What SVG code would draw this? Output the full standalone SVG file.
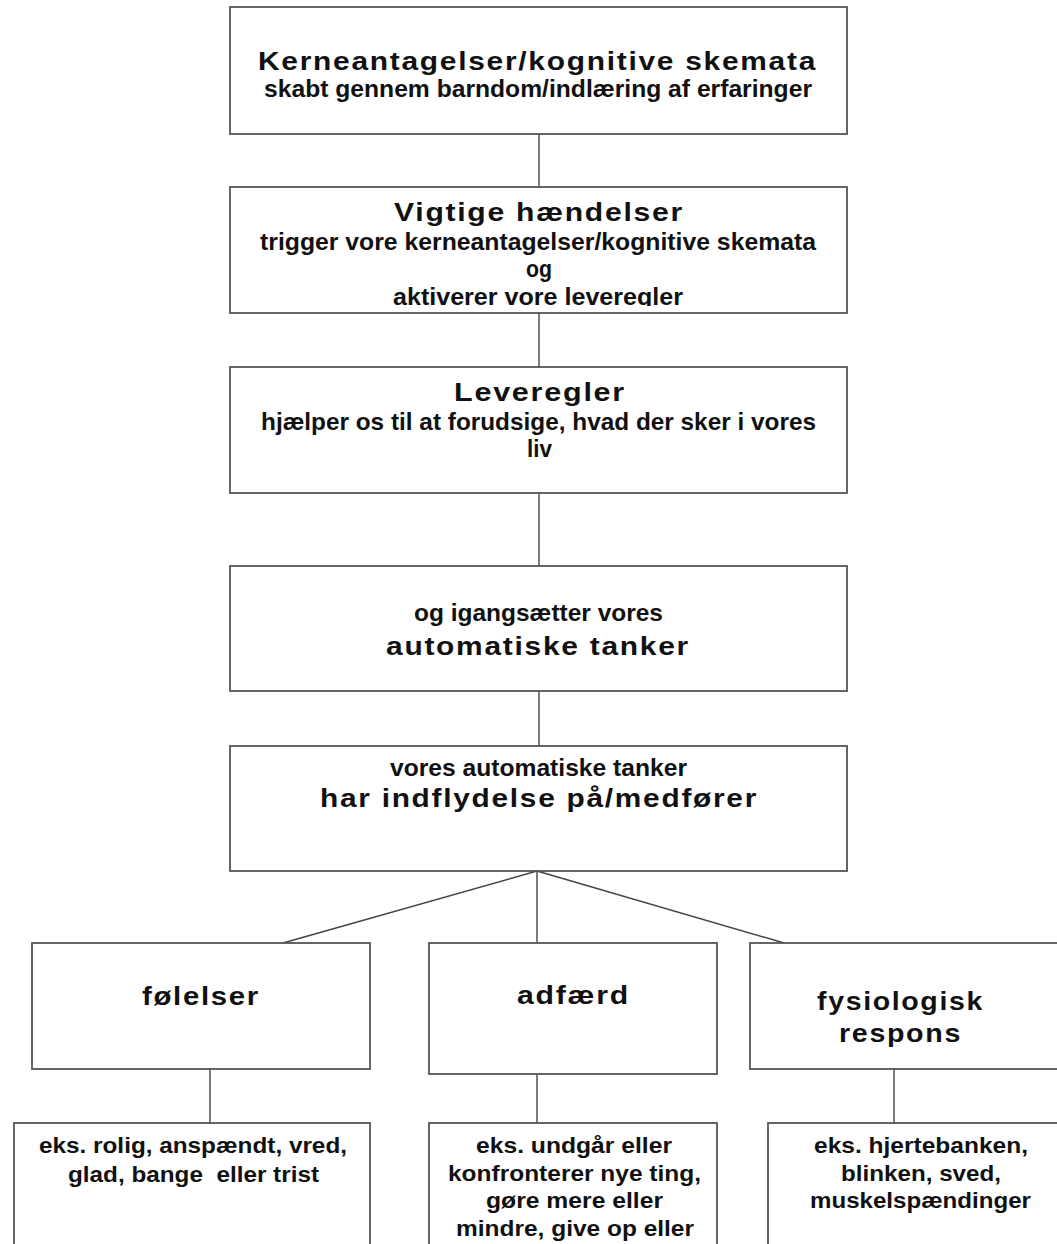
<svg xmlns="http://www.w3.org/2000/svg" width="1057" height="1244" viewBox="0 0 1057 1244">
<style>
.box{fill:#fff;stroke:#555;stroke-width:1.8}
.con{stroke:#444;stroke-width:1.4;fill:none}
text{font-family:"Liberation Sans",Arial,sans-serif;font-weight:bold;fill:#111}
.t{font-size:26px;letter-spacing:1.5px}
.s{font-size:24px}
.b{font-size:22px}
</style>
<defs>
<clipPath id="clip2"><rect x="230" y="187" width="617" height="119"/></clipPath>
</defs>
<rect width="1057" height="1244" fill="#fff"/>
<g id="connectors">
<line class="con" x1="539" y1="134" x2="539" y2="187"/>
<line class="con" x1="539" y1="313" x2="539" y2="367"/>
<line class="con" x1="539" y1="493" x2="539" y2="566"/>
<line class="con" x1="539" y1="691" x2="539" y2="746"/>
<line class="con" x1="537" y1="871" x2="283" y2="943"/>
<line class="con" x1="537" y1="871" x2="537" y2="943"/>
<line class="con" x1="537" y1="871" x2="784" y2="943"/>
<line class="con" x1="210" y1="1069" x2="210" y2="1123"/>
<line class="con" x1="537" y1="1070" x2="537" y2="1123"/>
<line class="con" x1="894" y1="1069" x2="894" y2="1123"/>
</g>
<g id="n1">
<rect class="box" x="230" y="7" width="617" height="127"/>
<text class="t" x="258" y="70" textLength="559" lengthAdjust="spacingAndGlyphs">Kerneantagelser/kognitive skemata</text>
<text class="s" x="264" y="97" textLength="548" lengthAdjust="spacingAndGlyphs">skabt gennem barndom/indlæring af erfaringer</text>
</g>
<g id="n2">
<rect class="box" x="230" y="187" width="617" height="126"/>
<text class="t" x="394" y="221" textLength="290" lengthAdjust="spacingAndGlyphs">Vigtige hændelser</text>
<text class="s" x="260" y="250" textLength="556" lengthAdjust="spacingAndGlyphs">trigger vore kerneantagelser/kognitive skemata</text>
<text class="s" x="526" y="277" textLength="26" lengthAdjust="spacingAndGlyphs">og</text>
<g clip-path="url(#clip2)">
<text class="s" x="393" y="305" textLength="290" lengthAdjust="spacingAndGlyphs">aktiverer vore leveregler</text>
</g>
</g>
<g id="n3">
<rect class="box" x="230" y="367" width="617" height="126"/>
<text class="t" x="454" y="401" textLength="172" lengthAdjust="spacingAndGlyphs">Leveregler</text>
<text class="s" x="261" y="430" textLength="555" lengthAdjust="spacingAndGlyphs">hjælper os til at forudsige, hvad der sker i vores</text>
<text class="s" x="527" y="457" textLength="25" lengthAdjust="spacingAndGlyphs">liv</text>
</g>
<g id="n4">
<rect class="box" x="230" y="566" width="617" height="125"/>
<text class="s" x="414" y="621" textLength="249" lengthAdjust="spacingAndGlyphs">og igangsætter vores</text>
<text class="t" x="386" y="655" textLength="304" lengthAdjust="spacingAndGlyphs">automatiske tanker</text>
</g>
<g id="n5">
<rect class="box" x="230" y="746" width="617" height="125"/>
<text class="s" x="390" y="776" textLength="297" lengthAdjust="spacingAndGlyphs">vores automatiske tanker</text>
<text class="t" x="320" y="807" textLength="438" lengthAdjust="spacingAndGlyphs">har indflydelse på/medfører</text>
</g>
<g id="n6">
<rect class="box" x="32" y="943" width="338" height="126"/>
<text class="t" x="142" y="1005" textLength="118" lengthAdjust="spacingAndGlyphs">følelser</text>
</g>
<g id="n7">
<rect class="box" x="429" y="943" width="288" height="131"/>
<text class="t" x="517" y="1004" textLength="113" lengthAdjust="spacingAndGlyphs">adfærd</text>
</g>
<g id="n8">
<rect class="box" x="750" y="943" width="330" height="126"/>
<text class="t" x="817" y="1010" textLength="167" lengthAdjust="spacingAndGlyphs">fysiologisk</text>
<text class="t" x="839" y="1042" textLength="123" lengthAdjust="spacingAndGlyphs">respons</text>
</g>
<g id="n9">
<rect class="box" x="14" y="1123" width="356" height="140"/>
<text class="b" x="39" y="1153" textLength="308" lengthAdjust="spacingAndGlyphs">eks. rolig, anspændt, vred,</text>
<text class="b" x="68" y="1182" textLength="251" lengthAdjust="spacingAndGlyphs" xml:space="preserve">glad, bange  eller trist</text>
</g>
<g id="n10">
<rect class="box" x="429" y="1123" width="288" height="140"/>
<text class="b" x="476" y="1153" textLength="196" lengthAdjust="spacingAndGlyphs">eks. undgår eller</text>
<text class="b" x="448" y="1181" textLength="253" lengthAdjust="spacingAndGlyphs">konfronterer nye ting,</text>
<text class="b" x="486" y="1208" textLength="177" lengthAdjust="spacingAndGlyphs">gøre mere eller</text>
<text class="b" x="456" y="1236" textLength="238" lengthAdjust="spacingAndGlyphs">mindre, give op eller</text>
</g>
<g id="n11">
<rect class="box" x="768" y="1123" width="312" height="140"/>
<text class="b" x="814" y="1153" textLength="214" lengthAdjust="spacingAndGlyphs">eks. hjertebanken,</text>
<text class="b" x="841" y="1181" textLength="160" lengthAdjust="spacingAndGlyphs">blinken, sved,</text>
<text class="b" x="810" y="1208" textLength="221" lengthAdjust="spacingAndGlyphs">muskelspændinger</text>
</g>
</svg>
